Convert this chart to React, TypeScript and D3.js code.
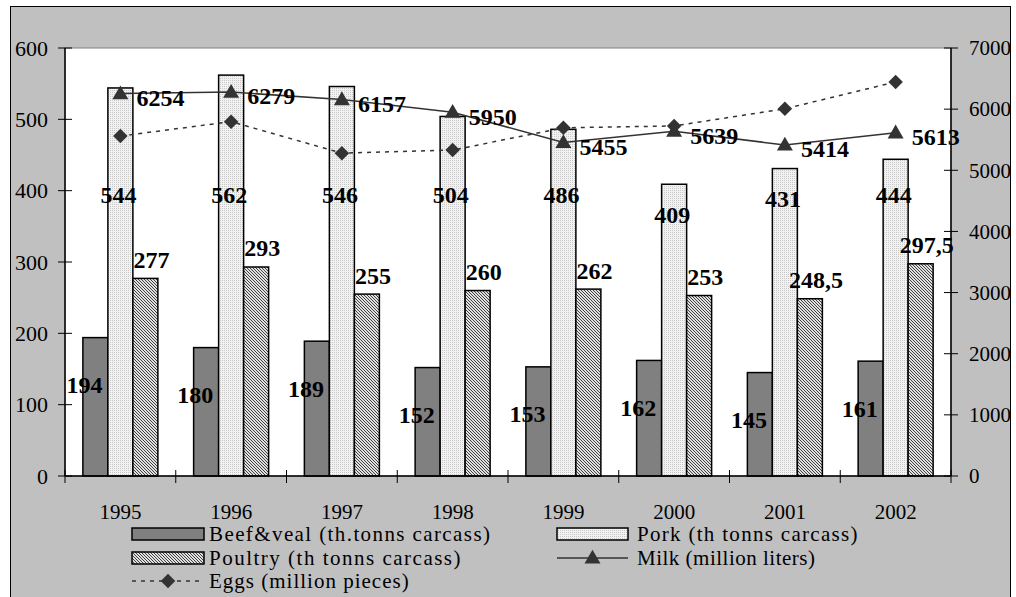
import React from "react";
import * as d3 from "d3";

const years = ["1995", "1996", "1997", "1998", "1999", "2000", "2001", "2002"];
const beef = [194, 180, 189, 152, 153, 162, 145, 161];
const pork = [544, 562, 546, 504, 486, 409, 431, 444];
const poultry = [277, 293, 255, 260, 262, 253, 248.5, 297.5];
const milk = [6254, 6279, 6157, 5950, 5455, 5639, 5414, 5613];
const eggs = [5560, 5795, 5280, 5330, 5695, 5725, 6005, 6445];
const leftTicks = [0, 100, 200, 300, 400, 500, 600];
const rightTicks = [0, 1000, 2000, 3000, 4000, 5000, 6000, 7000];
const barSeries = ["beef", "pork", "poultry"];

const W = 1016, H = 597;
const PL = 65, PR = 951, PT = 48, PB = 476;
const FONT = "Times New Roman, Liberation Serif, Tinos, Times, serif";
const fmt = (v: number) => String(v).replace(".", ",");

export default function App() {
  const x = d3.scaleBand<string>().domain(years).range([PL, PR]).padding(0);
  const bw = x.bandwidth();
  const groupW = 75;
  const xs = d3.scaleBand<string>().domain(barSeries).range([0, groupW]).padding(0);
  const yL = d3.scaleLinear().domain([0, 600]).range([PB, PT]);
  const yR = d3.scaleLinear().domain([0, 7000]).range([PB, PT]);
  const off = (bw - groupW) / 2;
  const bx = (y: string, s: string) => (x(y) as number) + off + (xs(s) as number);
  const cx = (y: string) => (x(y) as number) + bw / 2;
  const sw = xs.bandwidth();

  const line = d3.line<number>().x((_, i) => cx(years[i])).y((d) => yR(d));
  const tri = d3.symbol().type(d3.symbolTriangle).size(110)();
  const dia = d3.symbol().type(d3.symbolSquare).size(105)();

  const boundaries = d3.range(years.length + 1).map((i) => PL + i * bw);

  const lblStyle = { fontFamily: FONT, fontWeight: 700, fontSize: 24, fill: "#000" } as const;
  const porkLabelY = (v: number) => Math.max(yL(395), yL(v) + 30);

  return (
    <svg width={W} height={H} style={{ position: "absolute", left: 0, top: 0 }}>
      <defs>
        <pattern id="dots" width="2" height="2" patternUnits="userSpaceOnUse">
          <rect width="2" height="2" fill="#f2f2f2" />
          <rect width="1" height="1" fill="#c8c8c8" />
        </pattern>
        <pattern id="hatch" width="3" height="3" patternUnits="userSpaceOnUse">
          <rect width="3" height="3" fill="#e0e0e0" />
          <path d="M0,0 L3,3 M-1,2 L1,4 M2,-1 L4,1" stroke="#404040" strokeWidth="1" />
        </pattern>
      </defs>
      <rect x={0} y={0} width={W} height={H} fill="#fff" />
      <rect x={10.5} y={6.5} width={1000} height={H + 10} fill="#c0c0c0" stroke="#000" strokeWidth={1} />
      <rect x={PL} y={PT} width={PR - PL} height={PB - PT} fill="#fff" stroke="#808080" strokeWidth={1} />

      {/* bars */}
      {years.map((yr, i) => (
        <g key={yr}>
          <rect x={bx(yr, "beef")} y={yL(beef[i])} width={sw} height={PB - yL(beef[i])} fill="#808080" stroke="#000" strokeWidth={1.5} />
          <rect x={bx(yr, "pork")} y={yL(pork[i])} width={sw} height={PB - yL(pork[i])} fill="url(#dots)" stroke="#000" strokeWidth={1.5} />
          <rect x={bx(yr, "poultry")} y={yL(poultry[i])} width={sw} height={PB - yL(poultry[i])} fill="url(#hatch)" stroke="#000" strokeWidth={1.5} />
        </g>
      ))}

      {/* axes */}
      <line x1={PL} x2={PL} y1={PT} y2={PB} stroke="#000" strokeWidth={1.5} />
      <line x1={PR} x2={PR} y1={PT} y2={PB} stroke="#000" strokeWidth={1.5} />
      <line x1={PL} x2={PR} y1={PB} y2={PB} stroke="#000" strokeWidth={1.5} />
      {leftTicks.map((t) => (
        <g key={"l" + t}>
          <line x1={PL - 7} x2={PL + 7} y1={yL(t)} y2={yL(t)} stroke="#000" />
          <text x={PL - 17} y={yL(t)} dy="0.35em" textAnchor="end" style={{ fontFamily: FONT, fontSize: 22 }}>{t}</text>
        </g>
      ))}
      {rightTicks.map((t) => (
        <g key={"r" + t}>
          <line x1={PR - 7} x2={PR + 7} y1={yR(t)} y2={yR(t)} stroke="#000" />
          <text x={PR + 18} y={yR(t)} dy="0.35em" textAnchor="start" style={{ fontFamily: FONT, fontSize: 21 }}>{t}</text>
        </g>
      ))}
      {boundaries.map((b, i) => (
        <line key={"xb" + i} x1={b} x2={b} y1={PB - 6} y2={PB + 7} stroke="#000" />
      ))}
      {years.map((yr) => (
        <text key={"xl" + yr} x={cx(yr)} y={512} dy="0.35em" textAnchor="middle" style={{ fontFamily: FONT, fontSize: 21 }}>{yr}</text>
      ))}

      {/* lines */}
      <path d={line(eggs) || ""} fill="none" stroke="#333" strokeWidth={1.5} strokeDasharray="4,5" />
      <path d={line(milk) || ""} fill="none" stroke="#333" strokeWidth={1.5} />
      {eggs.map((v, i) => (
        <path key={"e" + i} d={dia || ""} transform={`translate(${cx(years[i])},${yR(v)}) rotate(45)`} fill="#333" />
      ))}
      {milk.map((v, i) => (
        <path key={"m" + i} d={tri || ""} transform={`translate(${cx(years[i])},${yR(v) + 1})`} fill="#333" />
      ))}

      {/* labels */}
      {years.map((yr, i) => (
        <g key={"lb" + yr}>
          <text x={bx(yr, "beef") + sw / 2 - 11} y={yL(beef[i]) + 47} dy="0.35em" textAnchor="middle" style={lblStyle}>{fmt(beef[i])}</text>
          <text x={bx(yr, "pork") + sw / 2 - 2} y={porkLabelY(pork[i])} dy="0.35em" textAnchor="middle" style={lblStyle}>{fmt(pork[i])}</text>
          <text x={bx(yr, "poultry") + sw / 2 + 6} y={yL(poultry[i]) - 19} dy="0.35em" textAnchor="middle" style={lblStyle}>{fmt(poultry[i])}</text>
          <text x={cx(yr) + 16} y={yR(milk[i]) + 4} dy="0.35em" textAnchor="start" style={lblStyle}>{fmt(milk[i])}</text>
        </g>
      ))}

      {/* legend */}
      <g style={{ fontFamily: FONT, fontSize: 21 }}>
        <rect x={132} y={528} width={72} height={12} fill="#808080" stroke="#000" strokeWidth={1.5} />
        <text x={209} y={534} dy="0.35em" letterSpacing={1.4}>Beef&amp;veal (th.tonns carcass)</text>
        <rect x={557} y={528} width={71} height={12} fill="url(#dots)" stroke="#000" strokeWidth={1.5} />
        <text x={637} y={534} dy="0.35em" letterSpacing={1.3}>Pork (th tonns carcass)</text>
        <rect x={132} y={552} width={72} height={12} fill="url(#hatch)" stroke="#000" strokeWidth={1.5} />
        <text x={209} y={558} dy="0.35em" letterSpacing={1.5}>Poultry (th tonns carcass)</text>
        <line x1={557} x2={628} y1={558} y2={558} stroke="#333" strokeWidth={1.5} />
        <path d={tri || ""} transform="translate(592.5,559)" fill="#333" />
        <text x={637} y={558} dy="0.35em" letterSpacing={0.5}>Milk (million liters)</text>
        <line x1={132} x2={204} y1={581} y2={581} stroke="#333" strokeWidth={1.5} strokeDasharray="4,5" />
        <path d={dia || ""} transform="translate(168,581) rotate(45)" fill="#333" />
        <text x={209} y={581} dy="0.35em" letterSpacing={1.0}>Eggs (million pieces)</text>
      </g>
    </svg>
  );
}
